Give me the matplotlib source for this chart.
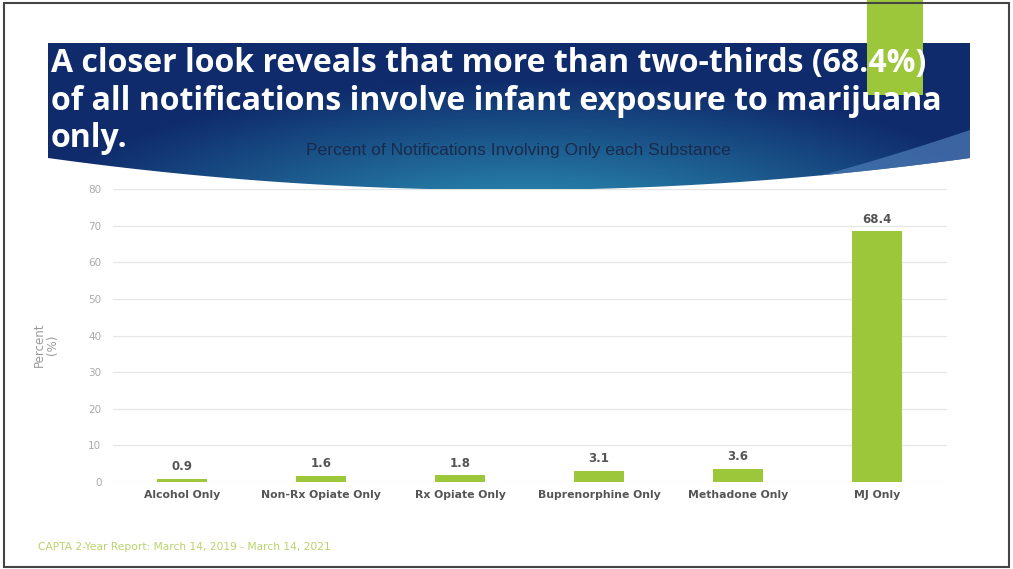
import numpy as np
import matplotlib.pyplot as plt
from matplotlib.patches import Polygon, Rectangle

categories = ['Alcohol Only', 'Non-Rx Opiate Only', 'Rx Opiate Only',
              'Buprenorphine Only', 'Methadone Only', 'MJ Only']
values = [0.9, 1.6, 1.8, 3.1, 3.6, 68.4]
yticks = [0, 10, 20, 30, 40, 50, 60, 70, 80]

title_lines = ['A closer look reveals that more than two-thirds (68.4%)',
               'of all notifications involve infant exposure to marijuana',
               'only.']
subtitle = 'Percent of Notifications Involving Only each Substance'
footer = 'CAPTA 2-Year Report: March 14, 2019 - March 14, 2021'

GREEN = '#9dc73a'
W, H = 1013, 569

fig = plt.figure(figsize=(W / 100, H / 100), dpi=100)
fig.patch.set_facecolor('white')

# background layer in pixel coordinates
bg = fig.add_axes([0, 0, 1, 1])
bg.set_xlim(0, W)
bg.set_ylim(H, 0)
bg.axis('off')

# blue banner with curved bottom edge
xs = np.linspace(48, 970, 60)
t = (xs - 48) / (970 - 48)
ys = (1 - t) ** 2 * 158 + 2 * (1 - t) * t * 222 + t ** 2 * 158
verts = [(48, 43), (970, 43)] + list(zip(xs[::-1], ys[::-1]))
banner = Polygon(verts, closed=True, facecolor='none', edgecolor='none')
bg.add_patch(banner)

gx, gy = np.meshgrid(np.linspace(0, 1, 200), np.linspace(0, 1, 100))
d = np.sqrt(((gx - 0.52) / 0.55) ** 2 + ((gy - 1.05) / 0.85) ** 2)
d = np.clip(d, 0, 1)
c_in = np.array([0.18, 0.60, 0.74])
c_out = np.array([0.06, 0.17, 0.42])
img = c_in[None, None, :] * (1 - d[..., None]) + c_out[None, None, :] * d[..., None]
im = bg.imshow(img, extent=[48, 970, 222, 43], aspect='auto', zorder=1)
im.set_clip_path(banner)

# lighter sweep on the right of the banner
sx = np.linspace(700, 970, 30)
st = (sx - 700) / 270
sy = 200 - 70 * st ** 1.3
sweep = Polygon([(700, 230)] + list(zip(sx, sy)) + [(970, 230)], closed=True,
                facecolor='#4a78b4', edgecolor='none', alpha=0.75, zorder=2)
sweep.set_clip_path(banner)
bg.add_patch(sweep)

# green accent block at the top right
bg.add_patch(Rectangle((867, 0), 56, 95, facecolor=GREEN, edgecolor='none', zorder=3))

# frame
bg.add_patch(Rectangle((4, 3), W - 8, H - 5, facecolor='none',
                       edgecolor='#444444', linewidth=1.5, zorder=5))

for i, line in enumerate(title_lines):
    bg.text(51, 72 + i * 37.5, line, color='white', fontsize=23,
            fontweight='bold', family='Open Sans', va='baseline', ha='left', zorder=4)
bg.text(518, 150, subtitle, color='#1a2a4a', fontsize=12.6,
        family='Liberation Sans', va='center', ha='center', zorder=4)
bg.text(38, 547, footer, color='#b9d36a', fontsize=7.7,
        family='DejaVu Sans', va='center', ha='left', zorder=4)
bg.text(46, 345, 'Percent\n(%)', color='#999999', fontsize=8.5, rotation=90,
        va='center', ha='center', linespacing=1.1)

# chart
ax = fig.add_axes([112.5 / W, 1 - 482 / H, (946.5 - 112.5) / W, (482 - 189) / H])
ax.set_facecolor('none')
x = np.arange(len(categories))
ax.bar(x, values, width=0.36, color=GREEN, zorder=3)
for xi, v in zip(x, values):
    ax.text(xi, v + 1.6, f'{v:.1f}', ha='center', va='bottom', fontsize=8.5,
            fontweight='bold', color='#555555')
ax.set_xlim(-0.5, len(categories) - 0.5)
ax.set_ylim(0, 80)
ax.set_yticks(yticks)
ax.set_yticklabels([str(v) for v in yticks], color='#aaaaaa', fontsize=7.5)
ax.set_xticks(x)
ax.set_xticklabels(categories, color='#555555', fontsize=7.8, fontweight='bold')
ax.tick_params(length=0, pad=8)
ax.tick_params(axis='x', pad=6)
ax.yaxis.grid(True, color='#e6e6e6', linewidth=0.9, zorder=0)
for s in ax.spines.values():
    s.set_visible(False)

fig.savefig('out.png', dpi=100)
